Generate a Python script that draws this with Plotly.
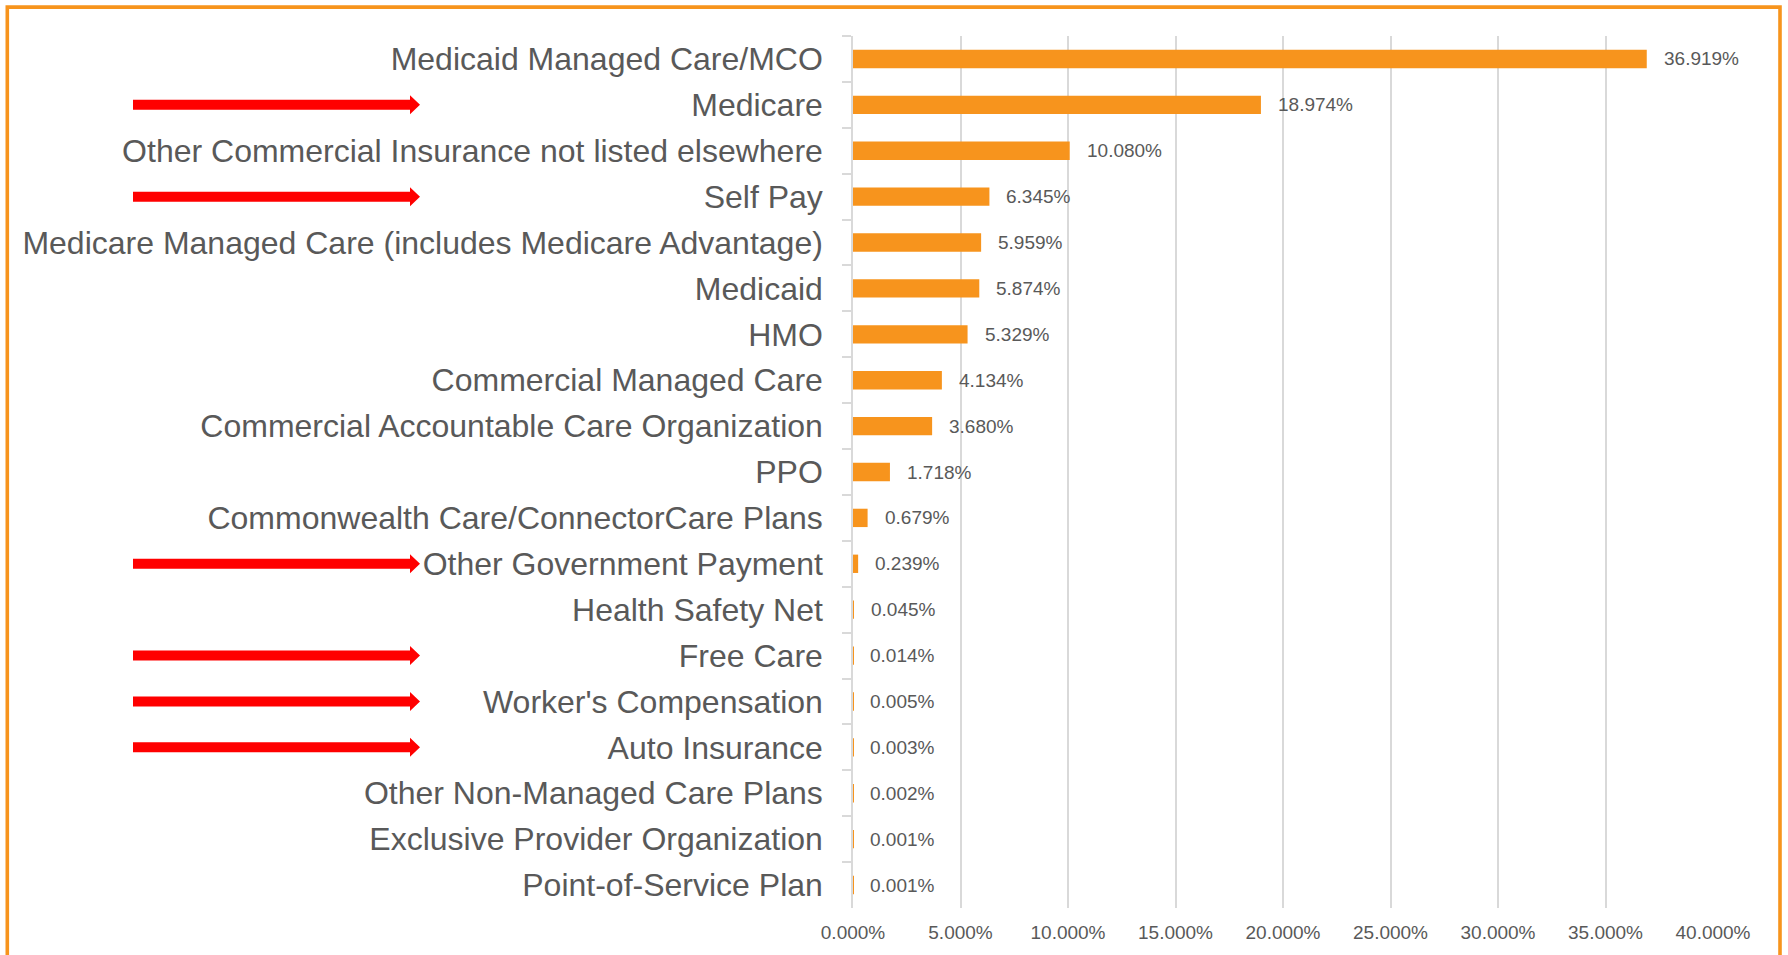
import plotly.graph_objects as go

categories = [
    "Medicaid Managed Care/MCO",
    "Medicare",
    "Other Commercial Insurance not listed elsewhere",
    "Self Pay",
    "Medicare Managed Care (includes Medicare Advantage)",
    "Medicaid",
    "HMO",
    "Commercial Managed Care",
    "Commercial Accountable Care Organization",
    "PPO",
    "Commonwealth Care/ConnectorCare Plans",
    "Other Government Payment",
    "Health Safety Net",
    "Free Care",
    "Worker's Compensation",
    "Auto Insurance",
    "Other Non-Managed Care Plans",
    "Exclusive Provider Organization",
    "Point-of-Service Plan",
]
values = [36.919, 18.974, 10.080, 6.345, 5.959, 5.874, 5.329, 4.134, 3.680,
          1.718, 0.679, 0.239, 0.045, 0.014, 0.005, 0.003, 0.002, 0.001, 0.001]
highlighted = ["Medicare", "Self Pay", "Other Government Payment", "Free Care",
               "Worker's Compensation", "Auto Insurance"]
x_ticks = [0, 5, 10, 15, 20, 25, 30, 35, 40]

ORANGE = "#F7941D"
GRAY_TXT = "#595959"
GRID = "#D9D9D9"
FONT = "Liberation Sans, Arial, sans-serif"

W, H = 1788, 955
L, R, T, B = 853, 75, 36, 43
pw = W - L - R
ph = H - T - B


def px_x(p):
    return (p - L) / pw


def px_y(p):
    return 1 - (p - T) / ph


fig = go.Figure()
fig.add_trace(go.Bar(
    x=values, y=categories, orientation="h",
    marker=dict(color=ORANGE, line=dict(width=0)),
    width=0.4, hoverinfo="x+y",
))

for c, v in zip(categories, values):
    fig.add_annotation(x=v, y=c, text=f"{v:.3f}%", showarrow=False,
                       xanchor="left", yanchor="middle", xshift=15,
                       font=dict(family=FONT, size=19, color=GRAY_TXT))

# red arrows pointing at highlighted categories (pixel sized, anchored on category)
ax = px_x(133)
arrow_path = "M 0,-5 L 277,-5 L 277,-9.5 L 287,0 L 277,9.5 L 277,5 L 0,5 Z"
for c in highlighted:
    fig.add_shape(type="path", xref="paper", yref="y", xsizemode="pixel", ysizemode="pixel",
                  xanchor=ax, yanchor=c, path=arrow_path,
                  fillcolor="#FF0000", line=dict(width=0), layer="above")

# outer orange frame
fig.add_shape(type="rect", xref="paper", yref="paper",
              x0=px_x(7.3), x1=px_x(1780), y0=px_y(965), y1=px_y(7),
              line=dict(color=ORANGE, width=3.6), fillcolor="rgba(0,0,0,0)", layer="below")

fig.update_layout(
    width=W, height=H,
    margin=dict(l=L, r=R, t=T, b=B, pad=0),
    paper_bgcolor="white", plot_bgcolor="white",
    showlegend=False, bargap=0.6,
    font=dict(family=FONT, color=GRAY_TXT),
)
fig.update_xaxes(
    range=[0, 40], tickvals=x_ticks, ticktext=[f"{t:.3f}%" for t in x_ticks],
    showgrid=True, gridcolor=GRID, gridwidth=1.5, zeroline=False, showline=False,
    ticks="", tickfont=dict(family=FONT, size=19, color=GRAY_TXT),
    ticklabelstandoff=11,
)
fig.update_yaxes(
    autorange="reversed", type="category",
    showline=True, linecolor=GRID, linewidth=1.5,
    ticks="outside", ticklen=9, tickcolor=GRID, tickwidth=1.5, tickson="boundaries",
    showgrid=False,
    tickfont=dict(family=FONT, size=32, color=GRAY_TXT),
    ticklabelstandoff=22,
)

fig.write_html("out.html", config={"displayModeBar": False},
               post_script="document.body.style.margin='0';document.body.style.overflow='hidden';")
